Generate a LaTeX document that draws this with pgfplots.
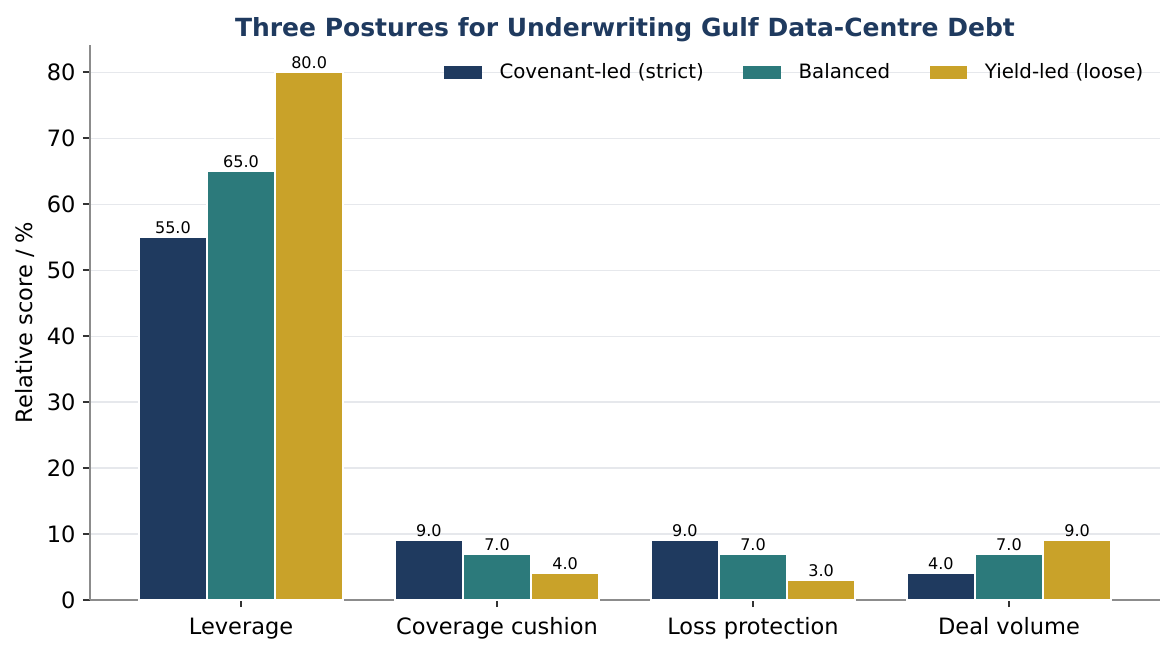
\documentclass[border=0pt]{standalone}
\usepackage{pgfplots}
\pgfplotsset{compat=1.18}
\usepackage{fontspec}
\setmainfont{DejaVu Sans}
\definecolor{navy}{HTML}{1F3A5F}
\definecolor{tealc}{HTML}{2C7A7B}
\definecolor{gold}{HTML}{C9A229}
\definecolor{gridc}{HTML}{E6E8EC}
\definecolor{spine}{HTML}{8C8C8C}
\begin{document}
\begin{tikzpicture}
\begin{axis}[
  scale only axis,
  width=513.6pt, height=266.4pt,
  set layers,
  ybar=0pt, bar width=0.266,
  xmin=-0.59, xmax=3.59,
  ymin=0, ymax=84.1,
  xtick={0,1,2,3},
  xticklabels={Leverage,Coverage cushion,Loss protection,Deal volume},
  ytick={0,10,...,80},
  axis x line*=bottom, axis y line*=left,
  axis line style={spine, line width=0.55pt, /pgfplots/on layer=axis foreground},
  tick style={black!80, line width=0.55pt},
  major tick length=3.4pt,
  tick align=outside,
  ymajorgrids, grid style={gridc, line width=0.5pt},
  ticklabel style={font=\fontsize{10.8}{12}\selectfont},
  xticklabel style={yshift=-1.6pt},
  /pgf/number format/assume math mode=true,
  ylabel={Relative score / \%},
  ylabel style={font=\fontsize{10.8}{12}\selectfont, at={(axis description cs:-0.0604,0.5)}, anchor=center},
  title={Three Postures for Underwriting Gulf Data-Centre Debt},
  every axis title/.style={font=\fontsize{12}{14}\bfseries\selectfont, text=navy,
    at={(axis description cs:0.5,1)}, anchor=center, yshift=7.3pt},
  nodes near coords={\pgfmathprintnumber[fixed,fixed zerofill,precision=1]{\pgfplotspointmeta}},
  nodes near coords style={font=\fontsize{7.7}{9}\selectfont, text=black, anchor=south, inner sep=0pt, yshift=1.3pt},
  legend columns=3,
  legend style={draw=none, fill=none, at={(axis description cs:0.9945,0.9512)}, anchor=east,
    font=\fontsize{9.5}{11}\selectfont, text=black,
    /tikz/every odd column/.append style={column sep=6.5pt},
    /tikz/every even column/.append style={column sep=17pt}},
  legend image code/.code={\fill[#1, draw=none] (0pt,-3.1pt) rectangle (18pt,3.1pt);},
]
\addplot[fill=navy, draw=white, line width=0.8pt] coordinates {(0,55) (1,9) (2,9) (3,4)};
\addplot[fill=tealc, draw=white, line width=0.8pt] coordinates {(0,65) (1,7) (2,7) (3,7)};
\addplot[fill=gold, draw=white, line width=0.8pt] coordinates {(0,80) (1,4) (2,3) (3,9)};
\legend{Covenant-led (strict), Balanced, Yield-led (loose)}
\end{axis}
\pgfresetboundingbox
\path (current axis.south west) +(-43.2pt,-25.44pt) rectangle +(520.32pt,288.0pt);
\end{tikzpicture}
\end{document}
